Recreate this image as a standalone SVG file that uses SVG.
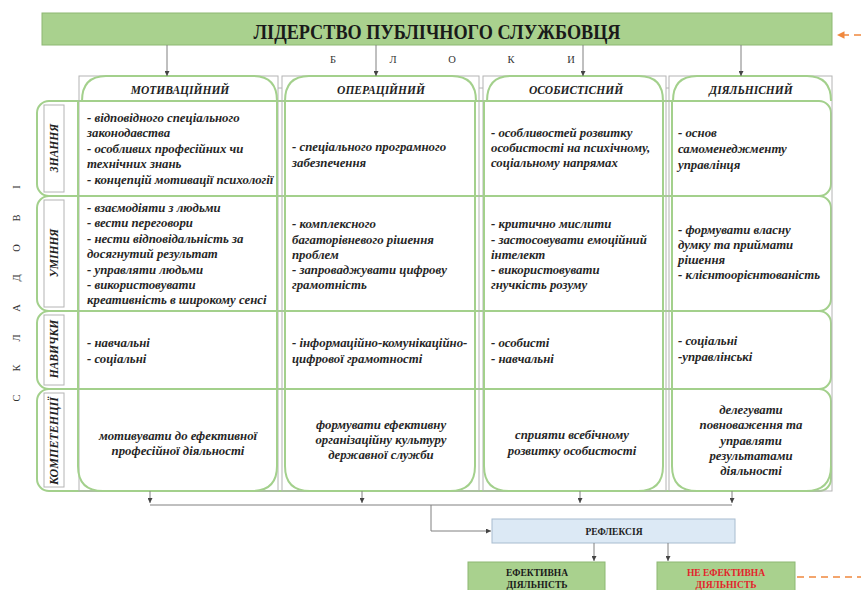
<svg xmlns="http://www.w3.org/2000/svg" width="861" height="590" viewBox="0 0 861 590">
<defs>
<style>
.cell{font-family:"Liberation Serif",serif;font-style:italic;font-weight:bold;font-size:12.8px;fill:#262626}
.mid{text-anchor:middle}
.lab{font-family:"Liberation Serif",serif;font-style:italic;font-weight:bold;font-size:11.5px;fill:#222;text-anchor:middle}
.tab{font-family:"Liberation Serif",serif;font-style:italic;font-weight:bold;font-size:11.5px;fill:#222;text-anchor:middle}
.gr{fill:none;stroke:#a3d08c;stroke-width:2}
.row{fill:#fff;stroke:#a3d08c;stroke-width:2}
.gy{fill:none;stroke:#b4b4b4;stroke-width:1}
.ln{fill:none;stroke:#808080;stroke-width:1}
.sp{font-family:"Liberation Serif",serif;font-size:10.5px;fill:#333;text-anchor:middle}
.box{font-family:"Liberation Serif",serif;font-weight:bold;font-size:9.5px;text-anchor:middle}
.or{fill:none;stroke:#f0883e;stroke-width:1.5;stroke-dasharray:7 5}
</style>
<marker id="ar" viewBox="0 0 6 6" refX="6" refY="3" markerWidth="5" markerHeight="5" orient="auto"><path d="M0,0 L6,3 L0,6 z" fill="#444"/></marker>
<marker id="oa" viewBox="0 0 6 6" refX="6" refY="3" markerWidth="5" markerHeight="5" orient="auto"><path d="M0,0 L6,3 L0,6 z" fill="#f0883e"/></marker>
</defs>

<g id="header">
<rect x="42" y="13" width="790" height="32" fill="#a9d18e" stroke="#8db873"/>
<text x="437" y="39" text-anchor="middle" font-family="Liberation Serif, serif" font-weight="bold" font-size="20" fill="#1a1a1a" textLength="367" lengthAdjust="spacingAndGlyphs">ЛІДЕРСТВО ПУБЛІЧНОГО СЛУЖБОВЦЯ</text>
</g>

<g id="bloky">
<text class="sp" y="63" x="333 363 393 422 452 481 511 541 571">Б Л О К И</text>
</g>

<g id="skladovi">
<text class="sp" font-size="12" transform="rotate(-90)" y="20" x="-398 -383 -368 -353 -338 -323 -308 -293 -278 -263 -248 -233 -218 -202 -187">С К Л А Д О В І</text>
</g>

<g id="rows">
<rect class="row" x="37" y="101" width="794" height="95" rx="12"/>
<rect class="row" x="37" y="196" width="794" height="115" rx="12"/>
<rect class="row" x="37" y="311" width="794" height="78" rx="12"/>
<rect class="row" x="37" y="389" width="794" height="102" rx="12"/>
</g>

<g id="columns-frame">
<rect class="gy" x="79" y="76" width="199" height="415"/>
<rect class="gy" x="282" y="76" width="197" height="415"/>
<rect class="gy" x="483" y="76" width="183" height="415"/>
<rect class="gy" x="669" y="76" width="163" height="415"/>
<path class="gy" d="M278,88 H282 M479,88 H483 M666,88 H669"/>
</g>

<g id="col-headers">
<path class="gr" d="M82,101 Q82,76 106,76 H253 Q277,76 277,101"/>
<path class="gr" d="M285,101 Q285,76 309,76 H452 Q476,76 476,101"/>
<path class="gr" d="M487,101 Q487,76 511,76 H639 Q663,76 663,101"/>
<path class="gr" d="M673,101 Q673,76 697,76 H807 Q831,76 831,101"/>
<text class="tab" x="180" y="94">МОТИВАЦІЙНИЙ</text>
<text class="tab" x="381" y="94">ОПЕРАЦІЙНИЙ</text>
<text class="tab" x="576" y="94">ОСОБИСТІСНИЙ</text>
<text class="tab" x="751" y="94">ДІЯЛЬНІСНИЙ</text>
</g>

<g id="cell-lines">
<path class="gr" d="M78,101 V389 M277,101 V389 M285,101 V389 M475,101 V389 M484,101 V389 M663,101 V389 M672,101 V389"/>
<path class="gr" d="M78,389 V466 Q78,491 103,491 H252 Q277,491 277,466 V389"/>
<path class="gr" d="M285,389 V466 Q285,491 310,491 H450 Q475,491 475,466 V389"/>
<path class="gr" d="M484,389 V466 Q484,491 509,491 H638 Q663,491 663,466 V389"/>
<path class="gr" d="M672,389 V466 Q672,491 697,491 H806 Q831,491 831,466"/>
</g>

<g id="row-labels">
<rect class="gy" x="44" y="105" width="20" height="87"/>
<rect class="gy" x="44" y="200" width="20" height="107"/>
<rect class="gy" x="44" y="315" width="20" height="70"/>
<rect class="gy" x="44" y="393" width="20" height="94"/>
<text class="lab" transform="translate(58,148) rotate(-90)">ЗНАННЯ</text>
<text class="lab" transform="translate(58,253) rotate(-90)">УМІННЯ</text>
<text class="lab" transform="translate(58,349) rotate(-90)">НАВИЧКИ</text>
<text class="lab" transform="translate(58,441) rotate(-90)" textLength="88" lengthAdjust="spacingAndGlyphs">КОМПЕТЕНЦІЇ</text>
</g>

<g id="row-znannia">
<text class="cell"><tspan x="87" y="122">- відповідного спеціального</tspan><tspan x="87" y="137">законодавства</tspan><tspan x="87" y="153">- особливих професійних чи</tspan><tspan x="87" y="168">технічних знань</tspan><tspan x="87" y="184">- концепцій мотивації психології</tspan></text>
<text class="cell"><tspan x="292" y="151">- спеціального програмного</tspan><tspan x="292" y="167">забезпечення</tspan></text>
<text class="cell"><tspan x="491" y="137">- особливостей розвитку</tspan><tspan x="491" y="152">особистості на психічному,</tspan><tspan x="491" y="167">соціальному напрямах</tspan></text>
<text class="cell"><tspan x="678" y="137">- основ</tspan><tspan x="678" y="153">самоменеджменту</tspan><tspan x="678" y="169">управлінця</tspan></text>
</g>

<g id="row-uminnia">
<text class="cell"><tspan x="87" y="212">- взаємодіяти з людьми</tspan><tspan x="87" y="227">- вести переговори</tspan><tspan x="87" y="243">- нести відповідальність за</tspan><tspan x="87" y="258">досягнутий  результат</tspan><tspan x="87" y="274">-  управляти людьми</tspan><tspan x="87" y="289">- використовувати</tspan><tspan x="87" y="304">креативність в широкому сенсі</tspan></text>
<text class="cell"><tspan x="292" y="228">- комплексного</tspan><tspan x="292" y="244">багаторівневого рішення</tspan><tspan x="292" y="259">проблем</tspan><tspan x="292" y="274">- запроваджувати цифрову</tspan><tspan x="292" y="289">грамотність</tspan></text>
<text class="cell"><tspan x="491" y="228">- критично мислити</tspan><tspan x="491" y="244">- застосовувати емоційний</tspan><tspan x="491" y="259">інтелект</tspan><tspan x="491" y="274">- використовувати</tspan><tspan x="491" y="289">гнучкість розуму</tspan></text>
<text class="cell"><tspan x="678" y="234">- формувати власну</tspan><tspan x="678" y="249">думку та приймати</tspan><tspan x="678" y="264">рішення</tspan><tspan x="678" y="279">- клієнтоорієнтованість</tspan></text>
</g>

<g id="row-navychky">
<text class="cell"><tspan x="87" y="347">- навчальні</tspan><tspan x="87" y="363">- соціальні</tspan></text>
<text class="cell"><tspan x="292" y="347">- інформаційно-комунікаційно-</tspan><tspan x="292" y="363">цифрової грамотності</tspan></text>
<text class="cell"><tspan x="491" y="347">- особисті</tspan><tspan x="491" y="363">- навчальні</tspan></text>
<text class="cell"><tspan x="678" y="345">- соціальні</tspan><tspan x="678" y="361">-управлінські</tspan></text>
</g>

<g id="row-kompetentsii">
<text class="cell mid"><tspan x="178" y="440">мотивувати до ефективної</tspan><tspan x="178" y="455">професійної діяльності</tspan></text>
<text class="cell mid"><tspan x="381" y="429">формувати ефективну</tspan><tspan x="381" y="444">організаційну культуру</tspan><tspan x="381" y="459">державної служби</tspan></text>
<text class="cell mid"><tspan x="572" y="439">сприяти всебічному</tspan><tspan x="572" y="455">розвитку особистості</tspan></text>
<text class="cell mid"><tspan x="751" y="414">делегувати</tspan><tspan x="751" y="429">повноваження та</tspan><tspan x="751" y="445">управляти</tspan><tspan x="751" y="460">результатами</tspan><tspan x="751" y="475">діяльності</tspan></text>
</g>

<g id="refleksiia">
<rect x="492" y="519" width="243" height="24" fill="#dce9f5" stroke="#a8bccf"/>
<text class="box" x="614" y="535" fill="#222">РЕФЛЕКСІЯ</text>
</g>

<g id="efektyvna">
<rect x="468" y="562" width="137" height="34" fill="#a9d18e" stroke="#8db873"/>
<text class="box" fill="#1a1a1a"><tspan x="537" y="576">ЕФЕКТИВНА</tspan><tspan x="537" y="588">ДІЯЛЬНІСТЬ</tspan></text>
</g>

<g id="ne-efektyvna">
<rect x="657" y="562" width="138" height="34" fill="#a9d18e" stroke="#8db873"/>
<text class="box" fill="#e3242b"><tspan x="726" y="576">НЕ ЕФЕКТИВНА</tspan><tspan x="726" y="588">ДІЯЛЬНІСТЬ</tspan></text>
</g>

<g id="connectors">
<path class="ln" d="M167,45 V76" marker-end="url(#ar)"/>
<path class="ln" d="M376,45 V76" marker-end="url(#ar)"/>
<path class="ln" d="M583,45 V76" marker-end="url(#ar)"/>
<path class="ln" d="M741,45 V76" marker-end="url(#ar)"/>
<path class="ln" d="M150,491 V503" marker-end="url(#ar)"/>
<path class="ln" d="M362,491 V503" marker-end="url(#ar)"/>
<path class="ln" d="M580,491 V503" marker-end="url(#ar)"/>
<path class="ln" d="M732,491 V503" marker-end="url(#ar)"/>
<path class="ln" d="M150,505 H732"/>
<path class="ln" d="M431,505 V531 H491" marker-end="url(#ar)"/>
<path class="ln" d="M594,543 V561" marker-end="url(#ar)"/>
<path class="ln" d="M668,543 V561" marker-end="url(#ar)"/>
<path class="or" d="M861,35 H837" marker-end="url(#oa)"/>
<path class="or" d="M797,577 H861"/>
</g>
</svg>
